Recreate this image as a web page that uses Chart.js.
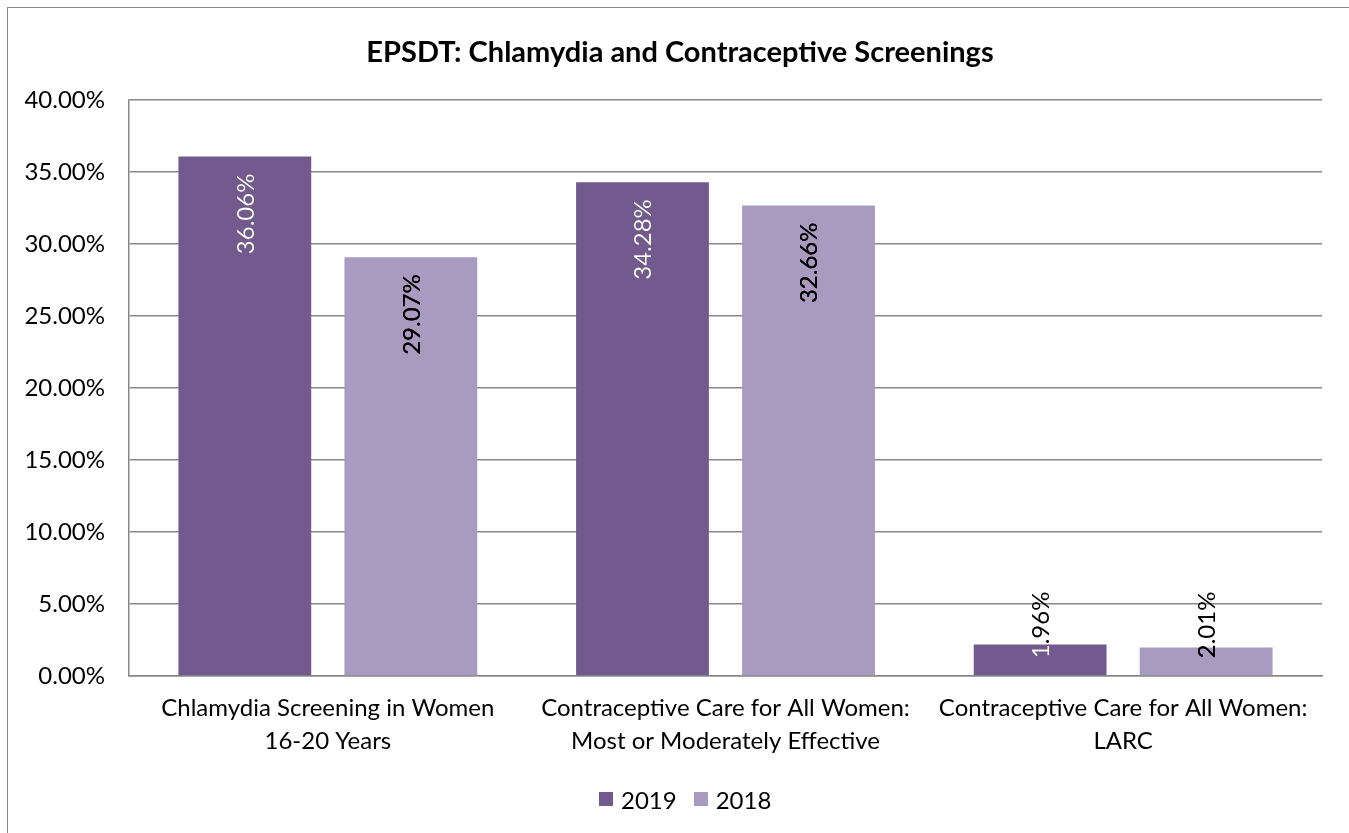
<!DOCTYPE html>
<html>
<head>
<meta charset="utf-8">
<title>EPSDT: Chlamydia and Contraceptive Screenings</title>
<script src="https://cdn.jsdelivr.net/npm/chart.js@4/dist/chart.umd.min.js"></script>
<style>
  html, body { margin: 0; padding: 0; background: #fff; overflow: hidden; }
  #wrap { position: relative; width: 1349px; height: 833px; }
  #frame { position: absolute; left: 7px; top: 7px; width: 1400px; height: 900px;
           border: 1.5px solid #8a8a8a; box-sizing: border-box; pointer-events: none; }
  canvas { position: absolute; left: 0; top: 0; }
  #legenda { position: absolute; left: 599px; top: 785px; height: 28px; display: flex;
             align-items: center; font: 24px Lato, "Open Sans", sans-serif; color: #000; }
  #legenda .cx { width: 14px; height: 14px; margin-right: 8px; }
  #legenda .item { display: flex; align-items: center; margin-right: 17px; }
</style>
</head>
<body>
<div id="wrap">
  <canvas id="grafico" width="1349" height="833"></canvas>
  <div id="legenda"></div>
  <div id="frame"></div>
</div>
<script>
// dados
const categorias = [
  ["Chlamydia Screening in Women", "16-20 Years"],
  ["Contraceptive Care for All Women:", "Most or Moderately Effective"],
  ["Contraceptive Care for All Women:", "LARC"],
];
const serie2019 = [36.06, 34.28, 2.19];
const serie2018 = [29.07, 32.66, 1.98];
const rotulos2019 = ["36.06%", "34.28%", "1.96%"];
const rotulos2018 = ["29.07%", "32.66%", "2.01%"];
const ticksY = [0, 5, 10, 15, 20, 25, 30, 35, 40];

const FONTE = "Lato, 'Open Sans', sans-serif";
const COR_2019 = "#725a8f";
const COR_2018 = "#a99bbf";

// rótulos de dados verticais, estilo Excel "inside end"
// (a parte que sai da barra fica preta, a de dentro na cor do rótulo)
const rotulosBarras = {
  id: "rotulosBarras",
  afterDatasetsDraw(chart) {
    const ctx = chart.ctx;
    const textos = [rotulos2019, rotulos2018];
    const cores = ["#ffffff", "#000000"];
    ctx.save();
    ctx.font = "24px " + FONTE;
    chart.data.datasets.forEach((ds, i) => {
      chart.getDatasetMeta(i).data.forEach((bar, j) => {
        const txt = textos[i][j];
        const len = ctx.measureText(txt).width;
        let ini = bar.y + 17 + len;
        if (ini > bar.base - 17) ini = bar.base - 17;
        const escreve = (cor) => {
          ctx.save();
          ctx.translate(bar.x, ini);
          ctx.rotate(-Math.PI / 2);
          ctx.fillStyle = cor;
          ctx.textAlign = "left";
          ctx.textBaseline = "middle";
          ctx.fillText(txt, 0, 1);
          ctx.restore();
        };
        escreve("#000000");
        ctx.save();
        ctx.beginPath();
        ctx.rect(bar.x - bar.width / 2, bar.y, bar.width, bar.base - bar.y);
        ctx.clip();
        escreve(cores[i]);
        ctx.restore();
      });
    });
    ctx.restore();
  },
};

const grafico = new Chart(document.getElementById("grafico"), {
  type: "bar",
  data: {
    labels: categorias,
    datasets: [
      { label: "2019", data: serie2019, backgroundColor: COR_2019,
        categoryPercentage: 0.835, barPercentage: 0.8 },
      { label: "2018", data: serie2018, backgroundColor: COR_2018,
        categoryPercentage: 0.835, barPercentage: 0.8 },
    ],
  },
  plugins: [rotulosBarras],
  options: {
    responsive: false,
    animation: false,
    layout: { padding: { left: 11, right: 0, top: 0, bottom: 74 } },
    plugins: {
      title: {
        display: true,
        text: "EPSDT: Chlamydia and Contraceptive Screenings",
        color: "#000",
        font: { family: FONTE, size: 29, weight: "bold", lineHeight: 1.2 },
        padding: { top: 35, bottom: 30 },
      },
      legend: { display: false },
      tooltip: { enabled: false },
    },
    scales: {
      x: {
        afterFit: (s) => { s.height = 83; },
        grid: { display: false, drawTicks: false },
        border: { display: true, color: "#888", width: 1.5 },
        ticks: { color: "#000", font: { family: FONTE, size: 24, lineHeight: 1.375 },
          padding: 16, maxRotation: 0, autoSkip: false },
      },
      y: {
        min: 0, max: 40,
        afterFit: (s) => { s.width = 118; },
        afterBuildTicks: (s) => { s.ticks = ticksY.map((v) => ({ value: v })); },
        grid: { color: "#888", lineWidth: 1.5, drawTicks: false },
        border: { display: true, color: "#888", width: 1.5 },
        ticks: {
          color: "#000", font: { family: FONTE, size: 24 }, padding: 24,
          callback: (v) => v.toFixed(2) + "%",
        },
      },
      // margem direita (vazia), só para o título ficar centrado como no original
      margem: {
        type: "linear", position: "right",
        afterFit: (s) => { s.width = 27; },
        grid: { display: false }, border: { display: false }, ticks: { display: false },
      },
    },
  },
});

// legenda em HTML, com as cores das séries
document.getElementById("legenda").innerHTML = grafico.data.datasets
  .map((d) => `<div class="item"><div class="cx" style="background:${d.backgroundColor}"></div>${d.label}</div>`)
  .join("");
</script>
</body>
</html>
